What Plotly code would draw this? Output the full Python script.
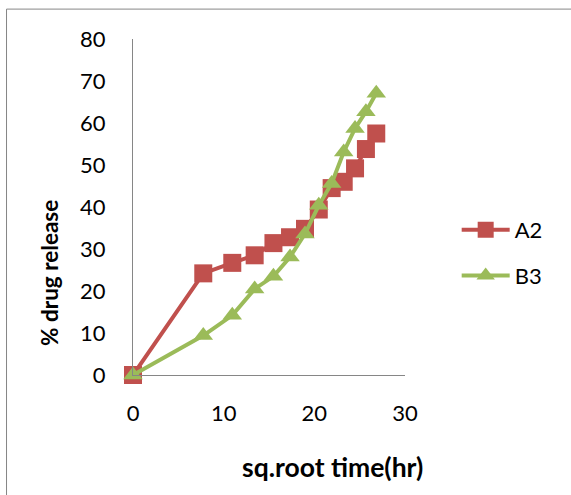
import plotly.graph_objects as go

sqrt_time = [0, 7.75, 10.95, 13.42, 15.49, 17.32, 18.97, 20.49, 21.91, 23.24, 24.49, 25.69, 26.83]
a2_release = [0, 24.2, 26.7, 28.5, 31.4, 32.8, 34.8, 39.4, 44.5, 46.0, 49.2, 53.8, 57.5]
b3_release = [0, 9.4, 14.2, 20.5, 23.5, 28.1, 33.6, 40.4, 45.6, 53.1, 58.7, 62.7, 67.1]

RED = "#C0504D"
GREEN = "#9BBB59"
AXIS = "#868686"
FONT = "Lato"

fig = go.Figure()
fig.add_trace(go.Scatter(
    x=sqrt_time, y=a2_release, name="A2", mode="lines+markers",
    line=dict(color=RED, width=4),
    marker=dict(symbol="square", size=18, color=RED),
    cliponaxis=False, legendgroup="a",
))
fig.add_trace(go.Scatter(
    x=sqrt_time, y=b3_release, name="B3", mode="lines+markers",
    line=dict(color=GREEN, width=4),
    marker=dict(symbol="triangle-up", size=17, color=GREEN),
    cliponaxis=False, legendgroup="b",
))

fig.update_layout(
    width=571, height=495,
    margin=dict(l=133, r=166, t=39, b=120),
    paper_bgcolor="white", plot_bgcolor="white",
    font=dict(family=FONT, size=22, color="black"),
    showlegend=True,
    legend=dict(x=1.19, y=0.363, xanchor="left", yanchor="middle",
                font=dict(family=FONT, size=22), itemwidth=48,
                tracegroupgap=14, traceorder="grouped",
                bgcolor="rgba(0,0,0,0)"),
    xaxis=dict(range=[0, 30], tickvals=[0, 10, 20, 30], showgrid=False, zeroline=False,
               showline=True, linecolor=AXIS, linewidth=1,
               ticks="outside", ticklen=19, tickcolor="rgba(0,0,0,0)",
               tickfont=dict(family=FONT, size=22)),
    yaxis=dict(range=[0, 80], tickvals=[0, 10, 20, 30, 40, 50, 60, 70, 80], showgrid=False, zeroline=False,
               showline=True, linecolor=AXIS, linewidth=1,
               ticks="outside", ticklen=22, tickcolor="rgba(0,0,0,0)",
               tickfont=dict(family=FONT, size=22)),
    annotations=[
        dict(text="<b>sq.root time(hr)</b>", xref="paper", yref="paper", x=0.735, y=-0.274,
             xanchor="center", yanchor="middle", showarrow=False, font=dict(family=FONT, size=26.5)),
        dict(text="<b>% drug release</b>", xref="paper", yref="paper", x=-0.305, y=0.304,
             xanchor="center", yanchor="middle", showarrow=False, textangle=-90,
             font=dict(family=FONT, size=22.5)),
    ],
    shapes=[dict(type="rect", xref="paper", yref="paper", x0=-0.465, y0=-0.6, x1=1.7, y1=1.089,
                 line=dict(color=AXIS, width=1), fillcolor="rgba(0,0,0,0)", layer="below")],
)

fig.write_html("out.html")
